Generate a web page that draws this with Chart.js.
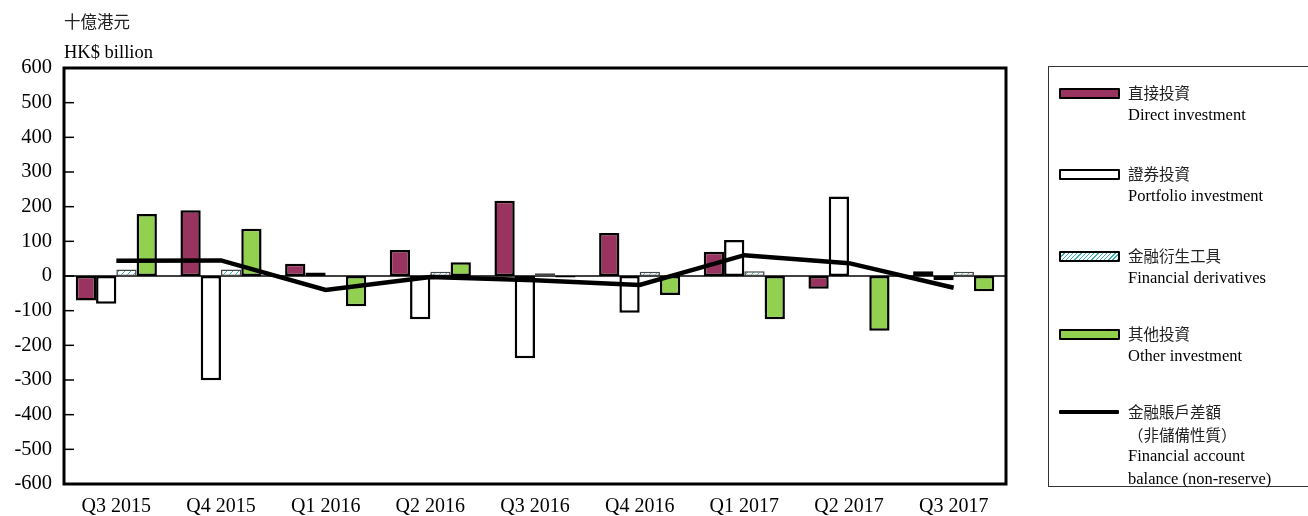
<!DOCTYPE html>
<html>
<head>
<meta charset="utf-8">
<script src="https://cdn.jsdelivr.net/npm/chart.js@4"></script>
<style>
  body { margin: 0; background: #fff; }
  #wrap { position: relative; width: 1308px; height: 516px; overflow: hidden; font-family: "Liberation Serif", "Noto Sans CJK TC", serif; color: #000; }
  canvas { position: absolute; left: 0; top: 0; }
  .unit { position: absolute; left: 64px; font-size: 18.5px; white-space: nowrap; }
  #legend { position: absolute; left: 1048px; top: 66px; width: 270px; height: 421px; border: 1px solid #333; box-sizing: border-box; }
  .item { position: absolute; left: 10px; }
  .swatch { position: absolute; left: 0; width: 57px; height: 7px; border: 2px solid #000; border-radius: 1px; }
  .swatch.line { height: 0; border: none; border-top: 4px solid #000; }
  .txt { position: absolute; left: 69px; font-size: 16.5px; line-height: 22.5px; white-space: nowrap; }
  .cjk { font-family: "Noto Sans CJK TC", sans-serif; color: #222; font-size: 15.5px; }
</style>
</head>
<body>
<div id="wrap">
  <canvas id="chart" width="1308" height="516"></canvas>
  <div class="unit cjk" style="top:9px; font-size:16.5px;">十億港元</div>
  <div class="unit" style="top:42px;">HK$ billion</div>
  <div id="legend"></div>
</div>
<script>
const quarters = ["Q3 2015", "Q4 2015", "Q1 2016", "Q2 2016", "Q3 2016", "Q4 2016", "Q1 2017", "Q2 2017", "Q3 2017"];
const directInvestment = [-71, 190, 35, 75, 217, 124, 70, -37, 14];
const portfolioInvestment = [-80, -301, 10, -125, -237, -106, 104, 229, -12];
const financialDerivatives = [19, 19, 1, 12, 8, 12, 14, -3, 12];
const otherInvestment = [179, 136, -87, 40, -4, -55, -125, -158, -44];
const financialAccountBalance = [44, 45, -40, -3, -12, -26, 60, 37, -34];
const yMin = -600, yMax = 600, yStep = 100;

const legendLabels = [
  ["直接投資", "Direct investment"],
  ["證券投資", "Portfolio investment"],
  ["金融衍生工具", "Financial derivatives"],
  ["其他投資", "Other investment"],
  ["金融賬戶差額", "（非儲備性質）", "Financial account", "balance (non-reserve)"]
];

// teal hatch for derivatives
function hatch() {
  const c = document.createElement("canvas");
  c.width = 6; c.height = 6;
  const g = c.getContext("2d");
  g.fillStyle = "#fff";
  g.fillRect(0, 0, 6, 6);
  g.strokeStyle = "#3bb3b5";
  g.lineWidth = 1;
  g.beginPath();
  g.moveTo(0, 6); g.lineTo(6, 0);
  g.moveTo(-1, 1); g.lineTo(1, -1);
  g.moveTo(5, 7); g.lineTo(7, 5);
  g.stroke();
  return g.createPattern(c, "repeat");
}
const hatchFill = hatch();

const barBase = { type: "bar", borderColor: "#000", borderWidth: 2.5, borderSkipped: false, categoryPercentage: 0.775, barPercentage: 1, order: 2 };

const frame = {
  id: "frame",
  beforeDatasetsDraw(chart) {
    const { ctx, chartArea: a, scales: { y } } = chart;
    ctx.save();
    ctx.strokeStyle = "#000";
    ctx.lineWidth = 1.5;
    const z = y.getPixelForValue(0);
    ctx.beginPath(); ctx.moveTo(a.left, z); ctx.lineTo(a.right, z); ctx.stroke();
    y.ticks.forEach(t => {
      const py = y.getPixelForValue(t.value);
      ctx.beginPath(); ctx.moveTo(a.left, py); ctx.lineTo(a.left + 10, py); ctx.stroke();
    });
    ctx.restore();
  },
  afterDatasetsDraw(chart) {
    const { ctx, chartArea: a } = chart;
    ctx.save();
    ctx.strokeStyle = "#000";
    ctx.lineWidth = 3;
    ctx.strokeRect(a.left, a.top, a.right - a.left, a.bottom - a.top);
    ctx.restore();
  }
};

const chart = new Chart(document.getElementById("chart"), {
  data: {
    labels: quarters,
    datasets: [
      { ...barBase, label: legendLabels[0].join(" "), data: directInvestment, backgroundColor: "#993461" },
      { ...barBase, label: legendLabels[1].join(" "), data: portfolioInvestment, backgroundColor: "#fff" },
      { ...barBase, label: legendLabels[2].join(" "), data: financialDerivatives, backgroundColor: hatchFill, borderColor: "#444", borderWidth: 1.5 },
      { ...barBase, label: legendLabels[3].join(" "), data: otherInvestment, backgroundColor: "#92d050" },
      { type: "line", label: legendLabels[4].join(" "), data: financialAccountBalance, borderColor: "#000", borderWidth: 4.5, pointRadius: 0, tension: 0, order: 1 }
    ]
  },
  options: {
    responsive: false,
    animation: false,
    layout: { padding: { top: 68, right: 302, left: 0, bottom: 0 } },
    plugins: { legend: { display: false }, tooltip: { enabled: false } },
    scales: {
      x: {
        grid: { display: false, drawTicks: false },
        border: { display: false },
        ticks: { color: "#000", padding: 11, font: { family: "Liberation Serif", size: 20 } },
        afterFit: s => { s.height = 32; }
      },
      y: {
        min: yMin, max: yMax,
        grid: { display: false, drawTicks: false },
        border: { display: false },
        ticks: { stepSize: yStep, color: "#000", padding: 12, font: { family: "Liberation Serif", size: 20.5 } },
        afterFit: s => { s.width = 64; }
      }
    }
  },
  plugins: [frame]
});

// legend built from the datasets
const legend = document.getElementById("legend");
const itemTops = [26, 107, 189, 267, 345];
chart.data.datasets.forEach((ds, i) => {
  const item = document.createElement("div");
  item.className = "item";
  item.style.top = itemTops[i] + "px";
  const sw = document.createElement("div");
  sw.className = "swatch" + (ds.type === "line" ? " line" : "");
  if (ds.type === "line") { sw.style.top = "-2px"; sw.style.width = "60px"; }
  else {
    sw.style.top = "-5px";
    sw.style.background = ds.backgroundColor === hatchFill
      ? "repeating-linear-gradient(135deg, #fff 0 2px, #3bb3b5 2px 3px)" : ds.backgroundColor;
  }
  item.appendChild(sw);
  legendLabels[i].forEach((t, k) => {
    const tx = document.createElement("div");
    tx.className = "txt" + (/[\u3000-\u9fff\uff00-\uffef]/.test(t) ? " cjk" : "");
    tx.style.top = (k * 22.5 - 12) + "px";
    tx.textContent = t;
    item.appendChild(tx);
  });
  legend.appendChild(item);
});
</script>
</body>
</html>
